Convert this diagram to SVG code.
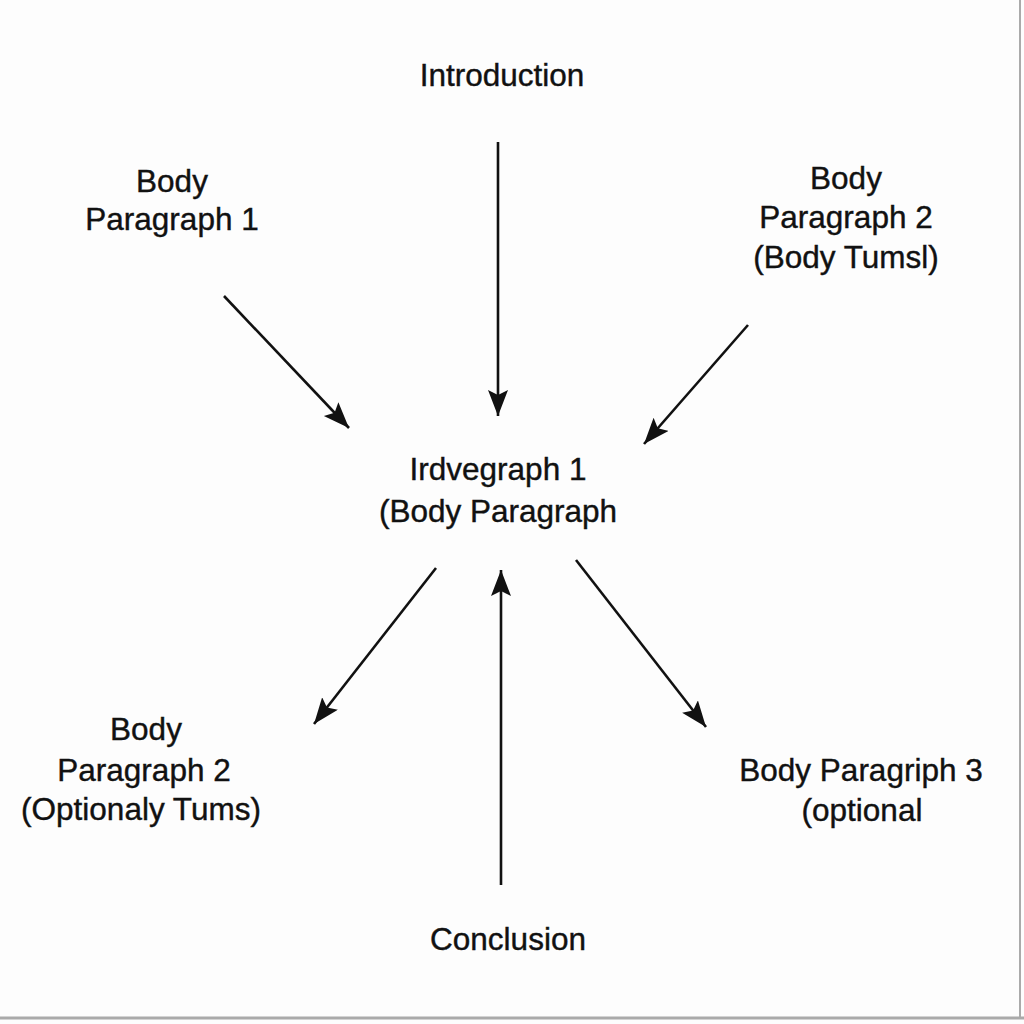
<svg xmlns="http://www.w3.org/2000/svg" width="1024" height="1024" viewBox="0 0 1024 1024">
<defs>
<style>
.t{font-family:"Liberation Sans","DejaVu Sans",sans-serif;font-size:31.5px;fill:#111;text-anchor:middle;stroke:#111;stroke-width:0.4}
.c{stroke:#111;stroke-width:2.6;fill:none}
</style>
<marker id="ah" markerUnits="userSpaceOnUse" markerWidth="28" markerHeight="22" refX="26" refY="10" orient="auto">
<path d="M0,0 L26,10 L0,20 L5,10 Z" fill="#111"/>
</marker>
</defs>
<rect x="0" y="0" width="1024" height="1024" fill="#fdfdfd"/>
<line x1="1020" y1="0" x2="1020" y2="1019" stroke="#aaa" stroke-width="2"/>
<line x1="0" y1="1018" x2="1024" y2="1018" stroke="#aaa" stroke-width="3"/>
<g id="connectors">
<line class="c" x1="498" y1="142" x2="498" y2="416" marker-end="url(#ah)"/>
<line class="c" x1="224" y1="296" x2="349" y2="428" marker-end="url(#ah)"/>
<line class="c" x1="748" y1="325" x2="644" y2="444" marker-end="url(#ah)"/>
<line class="c" x1="436" y1="568" x2="314" y2="724" marker-end="url(#ah)"/>
<line class="c" x1="501" y1="885" x2="501" y2="570" marker-end="url(#ah)"/>
<line class="c" x1="576" y1="560" x2="706" y2="727" marker-end="url(#ah)"/>
</g>
<g id="introduction"><text class="t" x="502" y="86">Introduction</text></g>
<g id="body1"><text class="t" x="172" y="192">Body</text><text class="t" x="172" y="230">Paragraph  1</text></g>
<g id="body2top"><text class="t" x="846" y="189">Body</text><text class="t" x="846" y="228">Paragraph 2</text><text class="t" x="846" y="268">(Body Tumsl)</text></g>
<g id="center"><text class="t" x="498" y="480">Irdvegraph  1</text><text class="t" x="498" y="522">(Body Paragraph</text></g>
<g id="body2bottom"><text class="t" x="146" y="740">Body</text><text class="t" x="144" y="781">Paragraph 2</text><text class="t" x="141" y="820">(Optionaly Tums)</text></g>
<g id="body3"><text class="t" x="861" y="781">Body Paragriph 3</text><text class="t" x="862" y="821">(optional</text></g>
<g id="conclusion"><text class="t" x="508" y="950">Conclusion</text></g>
</svg>
